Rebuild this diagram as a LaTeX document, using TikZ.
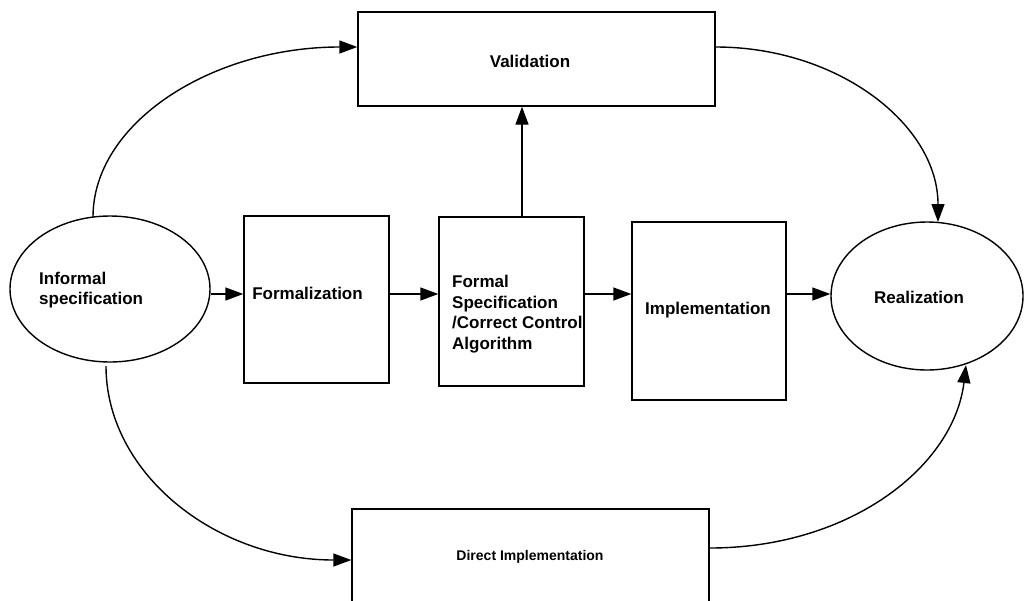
\documentclass[tikz,border=0pt]{standalone}
\usepackage{fontspec}
\setmainfont{Liberation Sans}
\usetikzlibrary{arrows.meta,shapes.geometric}
\begin{document}
\begin{tikzpicture}[x=1pt,y=-1pt,
  txt/.style={font=\bfseries\fontsize{17}{20.5}\selectfont,inner sep=0pt,align=left},
  small/.style={font=\bfseries\fontsize{14}{17}\selectfont,inner sep=0pt},
  box/.style={draw,line width=1.4pt,rectangle,inner sep=0pt},
  oval/.style={draw,line width=1.4pt,ellipse,inner sep=0pt},
  arr/.style={line width=1.4pt,-{Triangle[length=18pt,width=13pt]}}]
\clip (0,0) rectangle (1024,600);
\fill[white] (0,0) rectangle (1024,600);

% shapes
\node[oval,minimum width=200pt,minimum height=146pt] (inf) at (110,289) {};
\node[box,minimum width=145pt,minimum height=167pt] (form) at (316.5,299.5) {};
\node[box,minimum width=145pt,minimum height=169pt] (fs) at (511.5,301.5) {};
\node[box,minimum width=154pt,minimum height=178pt] (impl) at (709,311) {};
\node[oval,minimum width=192pt,minimum height=148pt] (real) at (927,296) {};
\node[box,minimum width=357pt,minimum height=94pt] (val) at (536.5,59) {};
\node[box,minimum width=357pt,minimum height=96pt] (dir) at (530.5,557) {};

% texts
\node[txt,anchor=west] (infT) at (39,290) {Informal\\specification};
\node[txt] (formT) at (307.5,293) {Formalization};
\node[txt,anchor=west] (fsT) at (452,314) {Formal\\Specification\\/Correct Control\\Algorithm};
\node[txt] (implT) at (708,310) {Implementation};
\node[txt] (realT) at (919,297) {Realization};
\node[txt] (valT) at (530,61) {Validation};
\node[small] (dirT) at (530,557) {Direct Implementation};

% helper levels
\coordinate (mid) at (0,294);
\coordinate (vx) at (522,0);
\coordinate (topy) at (0,47);

% straight connectors
\draw[arr] (inf.east |- mid) -- (form.west |- mid);
\draw[arr] (form.east |- mid) -- (fs.west |- mid);
\draw[arr] (fs.east |- mid) -- (impl.west |- mid);
\draw[arr] (impl.east |- mid) -- (real.west |- mid);
\draw[arr] (fs.north -| vx) -- (val.south -| vx);

% curved connectors
\coordinate (a1) at (93,217);
\draw[arr] (a1) .. controls +(0,-94) and +(-146,0) .. (val.west |- topy);
\coordinate (a2) at (938,222);
\draw[arr] (val.east |- topy) .. controls +(123,0) and +(0,-97) .. (a2);
\coordinate (b1) at (106,366);
\coordinate (b2) at (0,560);
\draw[arr] (b1) .. controls +(0,107) and +(-136,0) .. (dir.west |- b2);
\coordinate (c1) at (0,548);
\coordinate (c2) at (966,365);
\draw[arr] (dir.east |- c1) .. controls +(141,0) and +(-12,101) .. (c2);
\end{tikzpicture}
\end{document}
